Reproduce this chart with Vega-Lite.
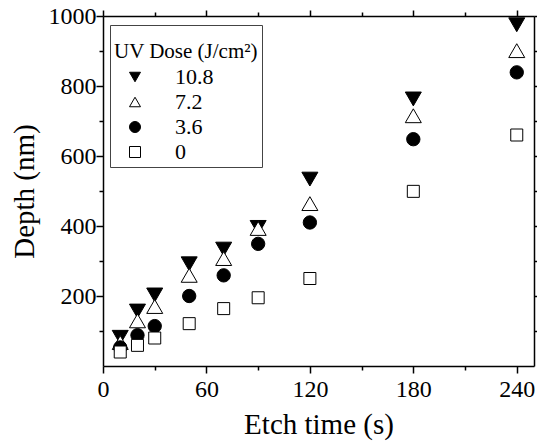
{
  "$schema": "https://vega.github.io/schema/vega-lite/v6.json",
  "width": 431,
  "height": 350,
  "autosize": {"type": "none"},
  "padding": {"left": 103, "top": 16, "right": 3, "bottom": 79},
  "config": {
    "view": {"stroke": null},
    "font": "Liberation Serif",
    "axis": {
      "grid": false,
      "domainColor": "black",
      "domainWidth": 1.5,
      "tickColor": "black",
      "tickWidth": 1.5,
      "labelColor": "black",
      "titleColor": "black",
      "labelFont": "Liberation Serif",
      "titleFont": "Liberation Serif",
      "labelFontSize": 24,
      "titleFontSize": 29,
      "titleFontWeight": "normal",
      "labelFlush": false,
      "labelOverlap": false
    },
    "legend": {
      "orient": "none", "legendX": 7, "legendY": 9,
      "strokeColor": "#444", "fillColor": "white", "padding": 4,
      "titleFont": "Liberation Serif", "titleFontSize": 21, "titleFontWeight": "normal", "titleColor": "black", "titleLineHeight": 12, "titlePadding": 4,
      "labelFont": "Liberation Serif", "labelFontSize": 22, "labelColor": "black",
      "symbolSize": 121, "symbolStrokeColor": "black", "symbolStrokeWidth": 1,
      "symbolOffset": 10, "labelOffset": 29, "rowPadding": 3
    }
  },
  "data": {
    "values": [
      {"dose": "10.8", "time": 10, "depth": 82},
      {"dose": "10.8", "time": 20, "depth": 157},
      {"dose": "10.8", "time": 30, "depth": 203},
      {"dose": "10.8", "time": 50, "depth": 292},
      {"dose": "10.8", "time": 70, "depth": 334},
      {"dose": "10.8", "time": 90, "depth": 396},
      {"dose": "10.8", "time": 120, "depth": 534},
      {"dose": "10.8", "time": 180, "depth": 763},
      {"dose": "10.8", "time": 240, "depth": 975},
      {"dose": "7.2", "time": 10, "depth": 67},
      {"dose": "7.2", "time": 20, "depth": 129},
      {"dose": "7.2", "time": 30, "depth": 170},
      {"dose": "7.2", "time": 50, "depth": 259},
      {"dose": "7.2", "time": 70, "depth": 307},
      {"dose": "7.2", "time": 90, "depth": 393},
      {"dose": "7.2", "time": 120, "depth": 464},
      {"dose": "7.2", "time": 180, "depth": 715},
      {"dose": "7.2", "time": 240, "depth": 901},
      {"dose": "3.6", "time": 10, "depth": 53},
      {"dose": "3.6", "time": 20, "depth": 88},
      {"dose": "3.6", "time": 30, "depth": 114},
      {"dose": "3.6", "time": 50, "depth": 200},
      {"dose": "3.6", "time": 70, "depth": 259},
      {"dose": "3.6", "time": 90, "depth": 349},
      {"dose": "3.6", "time": 120, "depth": 410},
      {"dose": "3.6", "time": 180, "depth": 648},
      {"dose": "3.6", "time": 240, "depth": 839},
      {"dose": "0", "time": 10, "depth": 40},
      {"dose": "0", "time": 20, "depth": 59},
      {"dose": "0", "time": 30, "depth": 80},
      {"dose": "0", "time": 50, "depth": 121},
      {"dose": "0", "time": 70, "depth": 164},
      {"dose": "0", "time": 90, "depth": 195},
      {"dose": "0", "time": 120, "depth": 250},
      {"dose": "0", "time": 180, "depth": 499},
      {"dose": "0", "time": 240, "depth": 660}
    ]
  },
  "layer": [
    {
      "encoding": {
        "x": {
          "field": "time", "type": "quantitative",
          "scale": {"domain": [0, 250], "nice": false, "zero": false},
          "axis": {
            "orient": "bottom",
            "title": "Etch time (s)",
            "values": [0, 30, 60, 90, 120, 150, 180, 210, 240],
            "labelExpr": "datum.value % 60 === 0 ? datum.label : ''",
            "tickSize": {"condition": {"test": "datum.value % 60 === 0", "value": 7}, "value": 4},
            "labelPadding": 4,
            "titlePadding": 9
          }
        },
        "y": {
          "field": "depth", "type": "quantitative",
          "scale": {"domain": [0, 1000], "nice": false},
          "axis": {
            "orient": "left",
            "title": "Depth (nm)",
            "format": "d",
            "values": [100, 200, 300, 400, 500, 600, 700, 800, 900, 1000],
            "labelExpr": "datum.value % 200 === 0 ? datum.label : ''",
            "tickSize": {"condition": {"test": "datum.value % 200 === 0", "value": 7}, "value": 4},
            "labelPadding": 0,
            "titlePadding": 9
          }
        },
        "shape": {
          "field": "dose", "type": "nominal",
          "title": ["", "UV Dose (J/cm²)"],
          "scale": {"domain": ["10.8", "7.2", "3.6", "0"], "range": ["triangle-down", "triangle-up", "circle", "square"]}
        },
        "fill": {
          "field": "dose", "type": "nominal",
          "title": ["", "UV Dose (J/cm²)"],
          "scale": {"domain": ["10.8", "7.2", "3.6", "0"], "range": ["black", "white", "black", "white"]}
        },
        "stroke": {
          "field": "dose", "type": "nominal",
          "title": ["", "UV Dose (J/cm²)"],
          "scale": {"domain": ["10.8", "7.2", "3.6", "0"], "range": ["black", "black", "black", "black"]}
        }
      },
      "layer": [
        {
          "transform": [{"filter": "datum.dose === '10.8' || datum.dose === '7.2'"}],
          "mark": {"type": "point", "filled": true, "strokeWidth": 1, "opacity": 1, "size": 256}
        },
        {
          "transform": [{"filter": "datum.dose === '3.6'"}],
          "mark": {"type": "point", "filled": true, "strokeWidth": 1, "opacity": 1, "size": 178}
        },
        {
          "transform": [{"filter": "datum.dose === '0'"}],
          "mark": {"type": "point", "filled": true, "strokeWidth": 1, "opacity": 1, "size": 144}
        }
      ]
    },
    {
      "mark": {"type": "point", "opacity": 0},
      "encoding": {
        "x": {
          "field": "time", "type": "quantitative",
          "axis": {
            "orient": "top", "title": null, "labels": false,
            "values": [0, 30, 60, 90, 120, 150, 180, 210, 240],
            "tickSize": {"condition": {"test": "datum.value % 60 === 0", "value": 6}, "value": 4}
          }
        },
        "y": {
          "field": "depth", "type": "quantitative",
          "axis": {
            "orient": "right", "title": null, "labels": false,
            "values": [100, 200, 300, 400, 500, 600, 700, 800, 900, 1000],
            "tickSize": {"condition": {"test": "datum.value % 200 === 0", "value": 6}, "value": 4}
          }
        }
      }
    }
  ],
  "resolve": {"axis": {"x": "independent", "y": "independent"}}
}
